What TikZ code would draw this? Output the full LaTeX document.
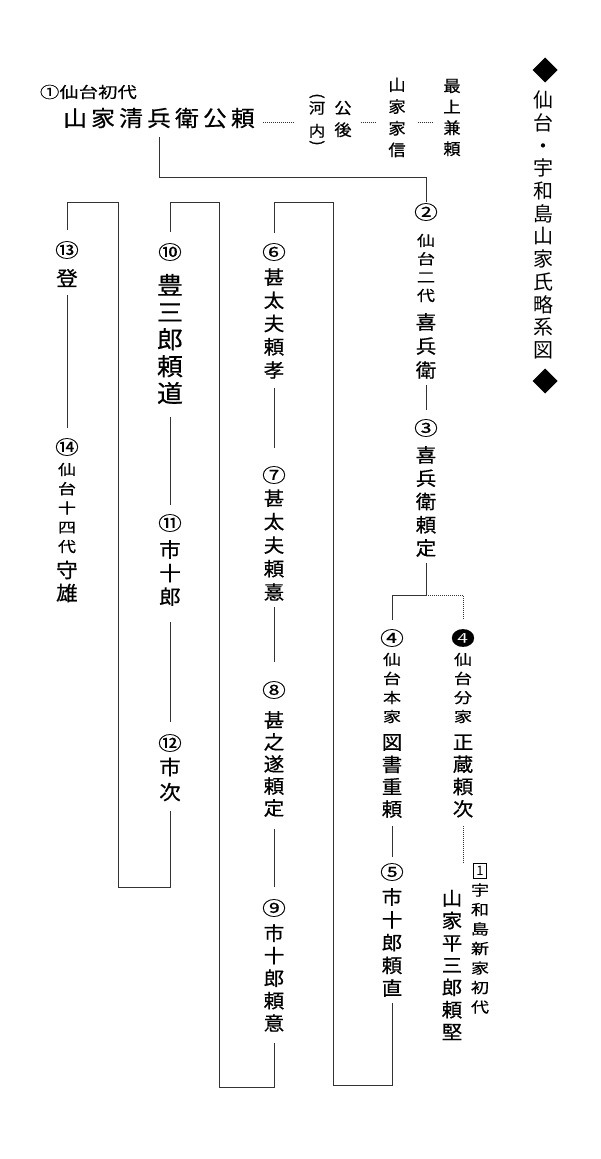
\documentclass[tikz,border=0pt]{standalone}
\usepackage{fontspec}
\setmainfont{Noto Sans CJK JP}
\newfontfamily\cjkS[FakeStretch=1.25,FakeBold=0.4]{Noto Sans CJK JP}
\newfontfamily\cjkN[FakeStretch=1.08,FakeBold=0.6]{Noto Sans CJK JP}
\usetikzlibrary{shapes.geometric}
\tikzset{
  every node/.style={inner sep=0pt, outer sep=0pt, align=center, text=black},
  num/.style={font=\cjkS\fontsize{19}{19}\selectfont},
  sml/.style={font=\cjkS\fontsize{14.5}{#1}\selectfont},
  sml/.default=19,
  vn/.style 2 args={font=\cjkN\fontsize{#1}{#2}\selectfont},
  hv/.style 2 args={font=\cjkN\fontsize{#1}{#2}\selectfont},
  paren/.style={rotate=-90, font=\cjkN\fontsize{15}{15}\selectfont},
  ttl/.style={font=\fontsize{20}{22.7}\selectfont},
  lab/.style={font=\cjkS\fontsize{15.5}{18}\selectfont},
  mainname/.style={font=\cjkN\fontsize{22}{24}\selectfont},
  boxnum/.style={draw=black, line width=0.6pt, minimum width=13pt, minimum height=15pt, font=\fontsize{13}{13}\selectfont},
  ln/.style={draw=black!80, line width=0.9pt},
  dots/.style={draw=black!80, line width=0.9pt, dash pattern=on 0.9pt off 1.1pt},
  dia/.style={diamond, fill=black, minimum width=25pt, minimum height=25pt},
}
\begin{document}
\begin{tikzpicture}[x=1pt,y=-1pt]
\useasboundingbox (0,0) rectangle (600,1159);
\fill[white] (0,0) rectangle (600,1159);

% title
\node[ttl] (ttl) at (543,225) {仙\\台\\・\\宇\\和\\島\\山\\家\\氏\\略\\系\\図};
\node[dia] (d1) at (545,70) {};
\node[dia] (d2) at (545,381) {};

% header
\node[lab, anchor=west] (l1) at (40,92) {①仙台初代};
\node[mainname] (n1) at (159,118) {山\kern4.2pt家\kern4.2pt清\kern4.2pt兵\kern4.2pt衛\kern4.2pt公\kern4.2pt頼};
\node[paren] (kwa) at (317,96) {(};
\node[hv={15}{23}] (kw) at (317,119.5) {河\\内};
\node[paren] (kwb) at (317,143) {)};
\node[hv={16}{22}] (kg) at (343,119) {公\\後};
\node[hv={16}{21.7}] (yk) at (397,117.5) {山\\家\\家\\信};
\node[hv={16}{21}] (mk) at (452,117.5) {最\\上\\兼\\頼};

% column A
\node[num] (c2) at (426,212) {②};
\node[sml=18.3] (s2) at (426,268) {仙\\台\\二\\代};
\node[vn={19}{24}] (m2) at (426,346) {喜\\兵\\衛};
\node[num] (c3) at (426,428) {③};
\node[vn={19}{23.25}] (m3) at (426,501.5) {喜\\兵\\衛\\頼\\定};

% column B
\node[num] (c4) at (392,638) {④};
\node[sml=19] (s4) at (392,688) {仙\\台\\本\\家};
\node[vn={19}{22.3}] (m4) at (392,776) {図\\書\\重\\頼};
\node[num] (c5) at (392,872) {⑤};
\node[vn={19}{22.75}] (m5) at (392,942.5) {市\\十\\郎\\頼\\直};

% column C
\node[num] (c4b) at (463,638) {❹};
\node[sml=19] (s4b) at (463,688) {仙\\台\\分\\家};
\node[vn={19}{22.3}] (m4b) at (463,776) {正\\蔵\\頼\\次};
\node[boxnum] (b1) at (480,871) {1};
\node[sml=19.5] (s1u) at (480,948.5) {宇\\和\\島\\新\\家\\初\\代};
\node[vn={19}{22.3}] (m1u) at (452,965) {山\\家\\平\\三\\郎\\頼\\堅};

% column D
\node[num] (c6) at (274,252) {⑥};
\node[vn={19}{23.25}] (m6) at (274,323.5) {甚\\太\\夫\\頼\\孝};
\node[num] (c7) at (274,475) {⑦};
\node[vn={19}{23.5}] (m7) at (274,545) {甚\\太\\夫\\頼\\憙};
\node[num] (c8) at (274,690) {⑧};
\node[vn={19}{22}] (m8) at (274,764) {甚\\之\\遂\\頼\\定};
\node[num] (c9) at (274,908) {⑨};
\node[vn={19}{22.5}] (m9) at (274,978) {市\\十\\郎\\頼\\意};

% column E
\node[num] (c10) at (170,252) {⑩};
\node[vn={24}{27}] (b10) at (170,339) {豊\\三\\郎\\頼\\道};
\node[num] (c11) at (170,523) {⑪};
\node[vn={20}{23.5}] (m11) at (170,573) {市\\十\\郎};
\node[num] (c12) at (170,743) {⑫};
\node[vn={20}{25}] (m12) at (170,779.5) {市\\次};

% column F
\node[num] (c13) at (67,250) {⑬};
\node[vn={20}{23}] (m13) at (67,278) {登};
\node[num] (c14) at (67,447) {⑭};
\node[sml=19.25] (s14) at (67,508) {仙\\台\\十\\四\\代};
\node[vn={20}{23}] (m14) at (67,581.5) {守\\雄};

% header dotted links
\coordinate (dy) at (0,122);
\draw[dots, shorten <=8pt, shorten >=16pt] (n1.east |- dy) -- (kw.west |- dy);
\draw[dots, shorten <=9pt, shorten >=12pt] (kg.east |- dy) -- (yk.west |- dy);
\draw[dots, shorten <=12pt, shorten >=11pt] (yk.east |- dy) -- (mk.west |- dy);

% connectors
\coordinate (h1) at (0,177);
\draw[ln] ([yshift=-9pt]n1.south) -- (n1.south |- h1) -| ([yshift=1pt]c2.north);
\draw[ln] ([yshift=-6.5pt]m2.south) -- ([yshift=9pt]c3.north);
\coordinate (h3) at (0,595);
\draw[ln] ([yshift=-6.5pt]m3.south) -- (m3.south |- h3) -| ([yshift=9pt]c4.north);
\draw[dots] (m3.south |- h3) -| ([yshift=11pt]c4b.north);
\draw[ln] ([yshift=-8.5pt]m4.south) -- ([yshift=6pt]c5.north);
\coordinate (r5a) at (333,1085);
\coordinate (r5b) at (333,202);
\draw[ln] ([yshift=-6.5pt]m5.south) |- (r5a) -- (r5b) -| ([yshift=10pt]c6.north);
\draw[dots] ([yshift=-8.5pt]m4b.south) -- (m4b.south |- b1.north) -- ++(0,-6.5);
\draw[ln] ([yshift=-9.5pt]m6.south) -- ([yshift=18pt]c7.north);
\draw[ln] ([yshift=-6.5pt]m7.south) -- ([yshift=19pt]c8.north);
\draw[ln] ([yshift=-12.5pt]m8.south) -- ([yshift=12pt]c9.north);
\coordinate (r9a) at (219,1087);
\coordinate (r9b) at (219,202);
\draw[ln] ([yshift=-11.5pt]m9.south) |- (r9a) -- (r9b) -| ([yshift=11pt]c10.north);
\draw[ln] ([yshift=-13pt]b10.south) -- ([yshift=9pt]c11.north);
\draw[ln] ([yshift=-16.5pt]m11.south) -- ([yshift=12pt]c12.north);
\coordinate (r12a) at (118,887);
\coordinate (r12b) at (118,202);
\draw[ln] ([yshift=-9.5pt]m12.south) |- (r12a) -- (r12b) -| ([yshift=11pt]c13.north);
\draw[ln] ([yshift=-8pt]m13.south) -- ([yshift=10pt]c14.north);
\end{tikzpicture}
\end{document}
